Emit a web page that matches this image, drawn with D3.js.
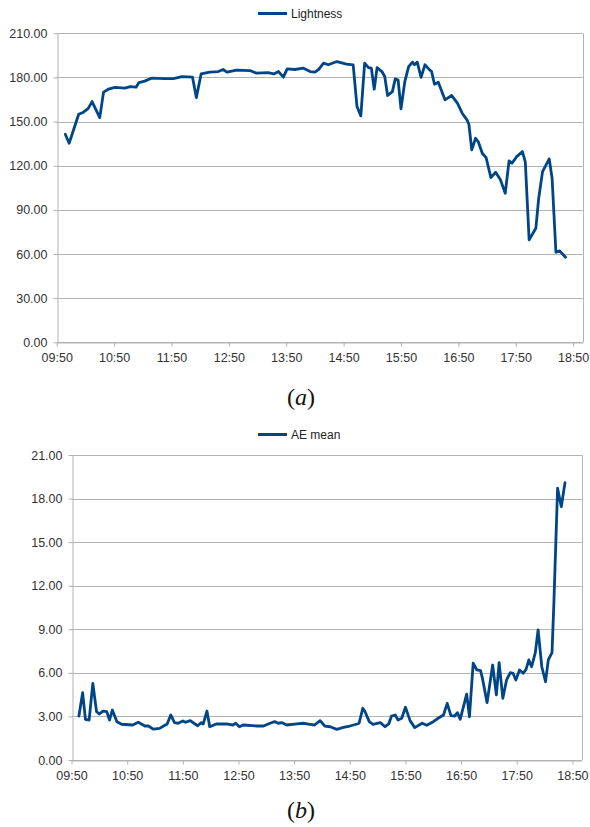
<!DOCTYPE html>
<html>
<head>
<meta charset="utf-8">
<script src="https://cdn.jsdelivr.net/npm/d3@7"></script>
<style>
  body { margin: 0; background: #fff; }
  svg { display: block; }
  .axis text { font-family: "Liberation Sans", Arial, sans-serif; font-size: 12.5px; fill: #333; }
  .axis path, .axis line { stroke: #b3b3b3; }
  .legend text { font-family: "Liberation Sans", Arial, sans-serif; font-size: 12px; fill: #222; }
  .caption { font-family: "Liberation Serif", "DejaVu Serif", serif; font-size: 24px; fill: #111; }
</style>
</head>
<body>
<svg width="590" height="827"></svg>
<script>
  // tick labels of both time axes
  var timeTicks = ["09:50", "10:50", "11:50", "12:50", "13:50", "14:50", "15:50", "16:50", "17:50", "18:50"];
  var timeEnd = "19:00";

  // (a) Lightness
  var lightTimes = ["09:59", "10:03", "10:13", "10:18", "10:23", "10:27", "10:35", "10:39", "10:44", "10:51",
    "11:01", "11:07", "11:13", "11:16", "11:22", "11:29", "11:43", "11:52", "12:01", "12:12",
    "12:16", "12:21", "12:30", "12:39", "12:44", "12:48", "12:58", "13:12", "13:19", "13:31",
    "13:37", "13:42", "13:47", "13:51", "13:59", "14:08", "14:15", "14:20", "14:24", "14:29",
    "14:34", "14:43", "14:53", "15:00", "15:04", "15:08", "15:12", "15:16", "15:19", "15:22",
    "15:25", "15:30", "15:33", "15:36", "15:41", "15:44", "15:47", "15:50", "15:54", "15:58",
    "16:02", "16:04", "16:07", "16:11", "16:15", "16:19", "16:22", "16:25", "16:29", "16:36",
    "16:43", "16:49", "16:54", "16:59", "17:01", "17:04", "17:08", "17:11", "17:15", "17:19",
    "17:24", "17:29", "17:34", "17:39", "17:43", "17:46", "17:51", "17:57", "18:00", "18:04",
    "18:11", "18:14", "18:18", "18:25", "18:28", "18:32", "18:36", "18:42"];
  var lightValues = [141.4, 135.3, 155.0, 156.4, 159.0, 163.6, 152.7, 170.0, 172.0, 173.2,
    172.7, 173.8, 173.4, 176.5, 177.5, 179.5, 179.2, 179.2, 180.6, 180.2,
    166.3, 182.4, 183.6, 184.0, 185.4, 183.6, 185.0, 184.7, 182.9, 183.3,
    182.4, 184.0, 180.2, 185.8, 185.4, 186.3, 184.0, 183.6, 185.5, 189.7,
    188.6, 190.8, 189.0, 188.6, 160.2, 153.9, 189.7, 186.7, 186.3, 172.0,
    186.7, 184.0, 180.6, 167.7, 170.4, 179.0, 178.2, 158.6, 177.2, 187.4,
    190.4, 188.6, 190.4, 180.0, 188.6, 185.8, 184.0, 175.4, 176.8, 164.8,
    167.7, 162.5, 155.7, 151.2, 148.2, 130.8, 138.7, 136.0, 128.5, 125.5,
    111.9, 115.6, 110.4, 101.3, 123.3, 121.7, 126.2, 129.6, 122.4, 69.6,
    77.5, 97.9, 116.0, 124.6, 111.5, 61.2, 62.1, 57.8];
  var lightTicks = [0, 30, 60, 90, 120, 150, 180, 210];

  // (b) AE mean
  var aeTimes = ["09:58", "10:02", "10:05", "10:09", "10:13", "10:17", "10:20", "10:24", "10:28", "10:31",
    "10:34", "10:39", "10:44", "10:56", "11:02", "11:09", "11:13", "11:18", "11:25", "11:31",
    "11:33", "11:37", "11:41", "11:45", "11:50", "11:53", "11:58", "12:02", "12:06", "12:10",
    "12:12", "12:16", "12:19", "12:26", "12:37", "12:44", "12:47", "12:51", "12:55", "13:10",
    "13:17", "13:24", "13:29", "13:33", "13:37", "13:42", "13:53", "14:00", "14:07", "14:12",
    "14:18", "14:23", "14:29", "14:36", "14:43", "14:50", "14:58", "15:00", "15:04", "15:06",
    "15:11", "15:15", "15:23", "15:28", "15:32", "15:35", "15:39", "15:42", "15:46", "15:50",
    "15:55", "16:00", "16:08", "16:13", "16:20", "16:26", "16:31", "16:35", "16:39", "16:43",
    "16:46", "16:49", "16:56", "16:59", "17:03", "17:07", "17:11", "17:13", "17:18", "17:24",
    "17:28", "17:31", "17:35", "17:39", "17:43", "17:46", "17:49", "17:53", "17:57", "18:00",
    "18:03", "18:06", "18:10", "18:13", "18:17", "18:21", "18:24", "18:28", "18:30", "18:34",
    "18:38", "18:42"];
  var aeValues = [3.03, 4.64, 2.80, 2.75, 5.28, 3.33, 3.17, 3.37, 3.33, 2.75,
    3.44, 2.64, 2.46, 2.41, 2.60, 2.34, 2.34, 2.13, 2.18, 2.41,
    2.46, 3.10, 2.57, 2.53, 2.69, 2.60, 2.71, 2.53, 2.36, 2.57,
    2.48, 3.37, 2.29, 2.48, 2.48, 2.41, 2.53, 2.29, 2.41, 2.34,
    2.34, 2.53, 2.64, 2.53, 2.57, 2.41, 2.48, 2.53, 2.46, 2.41,
    2.71, 2.34, 2.29, 2.11, 2.25, 2.34, 2.48, 2.53, 3.56, 3.39,
    2.64, 2.46, 2.57, 2.29, 2.48, 3.03, 3.10, 2.75, 2.87, 3.63,
    2.71, 2.23, 2.53, 2.39, 2.64, 2.91, 3.10, 3.90, 3.05, 3.03,
    3.26, 2.80, 4.54, 2.98, 6.66, 6.20, 6.15, 5.62, 3.95, 6.54,
    4.48, 6.70, 4.25, 5.51, 6.01, 5.97, 5.51, 6.20, 5.97, 6.24,
    6.89, 6.42, 7.39, 8.95, 6.42, 5.39, 6.89, 7.39, 10.79, 18.71,
    17.44, 19.10];
  var aeTicks = [0, 3, 6, 9, 12, 15, 18, 21];

  var svg = d3.select("svg");
  var parseTime = d3.timeParse("%H:%M");
  var fmt = d3.format(".2f");

  function drawPanel(cfg) {
    var x = d3
      .scaleTime()
      .domain([parseTime(timeTicks[0]), parseTime(timeEnd)])
      .range([cfg.left, cfg.right]);
    var y = d3
      .scaleLinear()
      .domain([0, d3.max(cfg.yTicks)])
      .range([cfg.bottom, cfg.top]);

    var g = svg.append("g");

    // horizontal grid
    g.append("g")
      .selectAll("line")
      .data(cfg.yTicks)
      .enter()
      .append("line")
      .attr("x1", cfg.left)
      .attr("x2", cfg.right)
      .attr("y1", function (d) { return Math.round(y(d)) + 0.5; })
      .attr("y2", function (d) { return Math.round(y(d)) + 0.5; })
      .style("stroke", "#b3b3b3");

    // right border
    g.append("line")
      .attr("x1", Math.round(cfg.right) + 0.5)
      .attr("x2", Math.round(cfg.right) + 0.5)
      .attr("y1", y(d3.max(cfg.yTicks)))
      .attr("y2", cfg.bottom)
      .style("stroke", "#b3b3b3");

    var yAxis = g
      .append("g")
      .attr("class", "axis")
      .attr("transform", "translate(" + (Math.round(cfg.left) + 0.5) + ",0)")
      .call(d3.axisLeft(y).tickValues(cfg.yTicks).tickFormat(fmt).tickSize(4).tickPadding(6).tickSizeOuter(0));

    var xAxis = g
      .append("g")
      .attr("class", "axis")
      .attr("transform", "translate(0," + (Math.round(cfg.bottom) + 0.5) + ")")
      .call(
        d3
          .axisBottom(x)
          .tickValues(timeTicks.map(parseTime))
          .tickFormat(d3.timeFormat("%H:%M"))
          .tickSize(4)
          .tickPadding(7)
          .tickSizeOuter(0)
      );

    var line = d3
      .line()
      .x(function (d) { return x(d.t); })
      .y(function (d) { return y(d.v); });

    var pts = cfg.times.map(function (t, i) {
      return { t: parseTime(t), v: cfg.values[i] };
    });

    g.append("path")
      .datum(pts)
      .attr("d", line)
      .style("fill", "none")
      .style("stroke", "#004586")
      .style("stroke-width", 2.8)
      .style("stroke-linejoin", "round")
      .style("stroke-linecap", "round");

    // legend
    var lg = g.append("g").attr("class", "legend");
    lg.append("line")
      .attr("x1", 258)
      .attr("x2", 287)
      .attr("y1", cfg.legendY)
      .attr("y2", cfg.legendY)
      .style("stroke", "#004586")
      .style("stroke-width", 3);
    lg.append("text")
      .attr("x", 291)
      .attr("y", cfg.legendY)
      .attr("dy", "0.35em")
      .text(cfg.name);

    // caption
    var cap = g
      .append("text")
      .attr("class", "caption")
      .attr("x", 301)
      .attr("y", cfg.captionY)
      .attr("text-anchor", "middle");
    cap.append("tspan").text("(");
    cap.append("tspan").style("font-style", "italic").text(cfg.label);
    cap.append("tspan").text(")");
  }

  drawPanel({
    name: "Lightness",
    label: "a",
    times: lightTimes,
    values: lightValues,
    yTicks: lightTicks,
    left: 56.7,
    right: 582.7,
    top: 33.3,
    bottom: 342.3,
    legendY: 13.5,
    captionY: 405
  });

  drawPanel({
    name: "AE mean",
    label: "b",
    times: aeTimes,
    values: aeValues,
    yTicks: aeTicks,
    left: 71.5,
    right: 581.7,
    top: 455,
    bottom: 760,
    legendY: 434.5,
    captionY: 818
  });
</script>
</body>
</html>
